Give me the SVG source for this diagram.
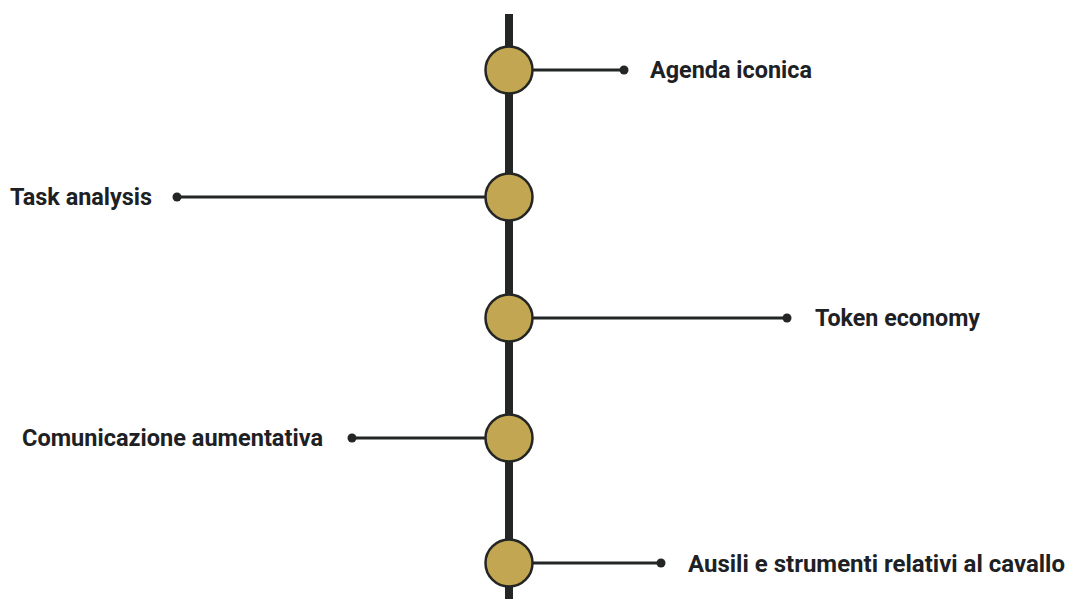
<svg xmlns="http://www.w3.org/2000/svg" width="1069" height="599" viewBox="0 0 1069 599">
<style>
.spine{stroke:#232624;stroke-width:8;fill:none}
.conn{stroke:#232624;stroke-width:3;fill:none}
.dot{fill:#232624}
.node{fill:#c3a651;stroke:#232624;stroke-width:2.5}
.lbl{font-family:Roboto,"Liberation Sans",sans-serif;font-weight:700;font-size:23px;fill:#1e2124}
</style>
<rect width="1069" height="599" fill="#ffffff"/>
<g id="connectors">
<line class="spine" x1="509" y1="14" x2="509" y2="599"/>
<line class="conn" x1="533" y1="70" x2="624" y2="70"/><circle class="dot" cx="624" cy="70" r="4.5"/>
<line class="conn" x1="485" y1="197" x2="177" y2="197"/><circle class="dot" cx="177" cy="197" r="4.5"/>
<line class="conn" x1="533" y1="318" x2="787" y2="318"/><circle class="dot" cx="787" cy="318" r="4.5"/>
<line class="conn" x1="485" y1="438" x2="352" y2="438"/><circle class="dot" cx="352" cy="438" r="4.5"/>
<line class="conn" x1="533" y1="563" x2="661" y2="563"/><circle class="dot" cx="661" cy="563" r="4.5"/>
</g>
<g id="n1"><circle class="node" cx="509" cy="70" r="23.5"/><text class="lbl" x="650" y="78" textLength="162" lengthAdjust="spacingAndGlyphs">Agenda iconica</text></g>
<g id="n2"><circle class="node" cx="509" cy="197" r="23.5"/><text class="lbl" x="10" y="205" textLength="142" lengthAdjust="spacingAndGlyphs">Task analysis</text></g>
<g id="n3"><circle class="node" cx="509" cy="318" r="23.5"/><text class="lbl" x="815" y="326" textLength="165" lengthAdjust="spacingAndGlyphs">Token economy</text></g>
<g id="n4"><circle class="node" cx="509" cy="438" r="23.5"/><text class="lbl" x="22" y="446" textLength="301" lengthAdjust="spacingAndGlyphs">Comunicazione aumentativa</text></g>
<g id="n5"><circle class="node" cx="509" cy="563" r="23.5"/><text class="lbl" x="688" y="572" textLength="377" lengthAdjust="spacingAndGlyphs">Ausili e strumenti relativi al cavallo</text></g>
</svg>
